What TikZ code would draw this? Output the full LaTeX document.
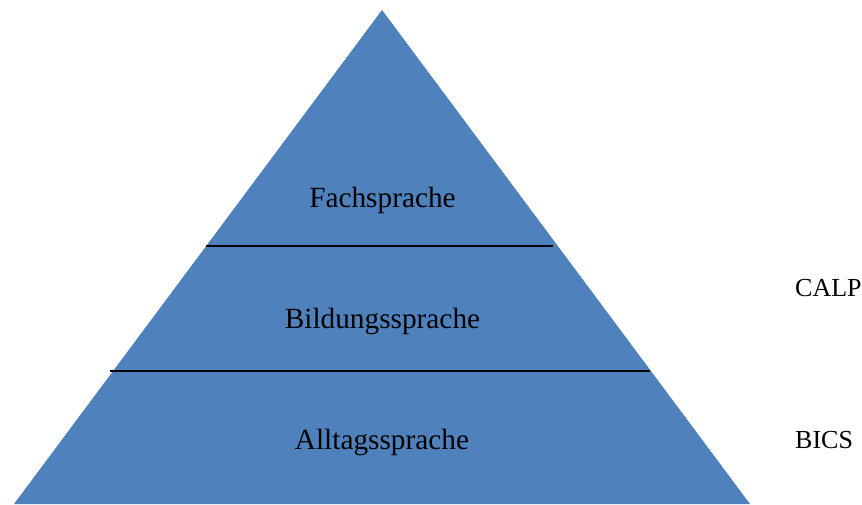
\documentclass[tikz,border=0pt]{standalone}
\usepackage{fontspec}
\setmainfont{Liberation Serif}
\definecolor{pyr}{HTML}{4F81BD}
\begin{document}
\begin{tikzpicture}[x=1pt,y=-1pt,
  lbl/.style={font=\fontsize{29.3}{32}\selectfont, inner sep=0pt, anchor=base},
  side/.style={font=\fontsize{26}{30}\selectfont, inner sep=0pt, anchor=base west},
  sep/.style={draw=black, line width=2pt}]
\useasboundingbox (0,0) rectangle (862,504);
\fill[pyr] (382,10) coordinate (apex) -- (14,504) coordinate (bl) -- (750,504) coordinate (br) -- cycle;
\coordinate (l1a) at (206,245.5);
\coordinate (l1b) at (553,245.5);
\coordinate (l2a) at (110,370.5);
\coordinate (l2b) at (650,370.5);
\draw[sep] (l1a) -- (l1b);
\draw[sep] (l2a) -- (l2b);
\node[lbl] (fach) at (382.5,207) {Fachsprache};
\node[lbl] (bild) at (382.5,328) {Bildungssprache};
\node[lbl] (allt) at (382,449) {Alltagssprache};
\node[side] (calp) at (795,296) {CALP};
\node[side] (bics) at (795,448) {BICS};
\end{tikzpicture}
\end{document}
